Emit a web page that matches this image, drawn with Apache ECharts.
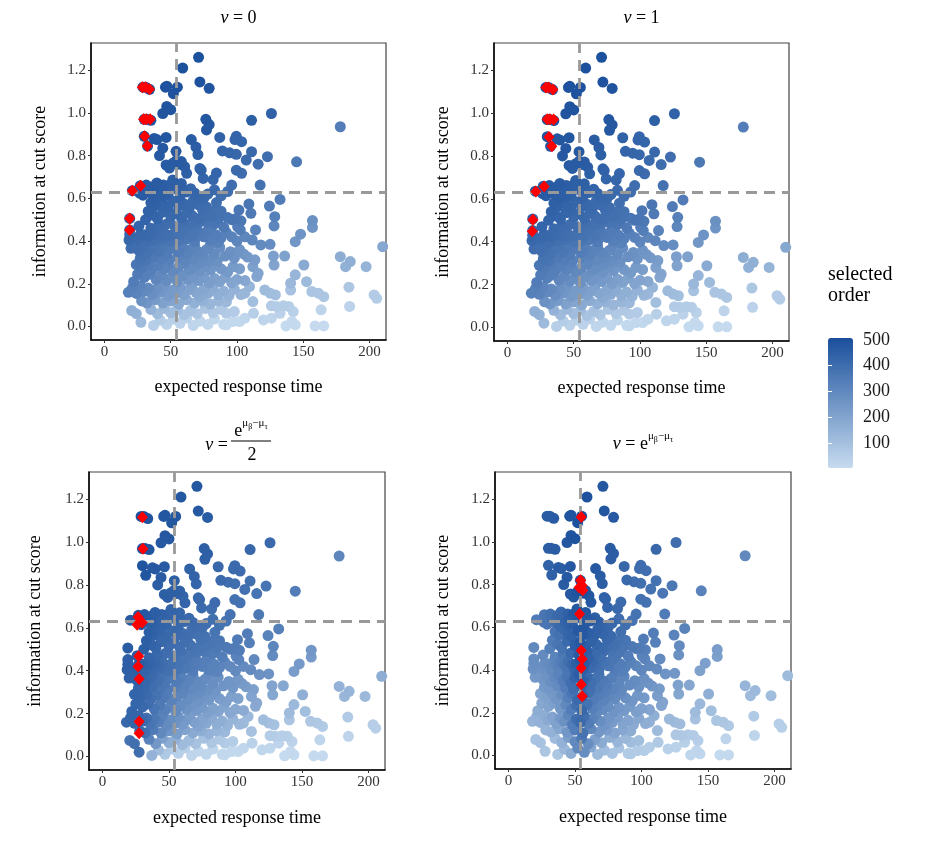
<!DOCTYPE html>
<html><head><meta charset="utf-8">
<script src="https://cdn.jsdelivr.net/npm/echarts@6/dist/echarts.min.js"></script>
<style>html,body{margin:0;padding:0;background:#fff}#c{width:927px;height:845px}</style>
</head><body><div id="c"></div>
<script>
// Each row: [expected response time, information at cut score, selected order (v=0 and v=1), selected order (v=e^(μβ-μτ)/2), selected order (v=e^(μβ-μτ))]
const itemsTop = [
[71,1.26,500,480,480],[59,1.21,500,480,495],[72,1.145,495,470,480],[79,1.115,490,460,470],[47,1.125,495,480,490],
[46,1.12,495,480,490],[55,1.12,495,480,500],[52,1.09,495,480,500],[29,1.12,500,500,460],[31,1.12,500,495,460],
[34,1.11,500,490,465],[47,1.03,490,475,490],[50,1.015,490,475,495],[44,0.997,490,470,480],[30,0.97,495,495,450],
[32,0.97,495,490,455],[35,0.965,495,485,460],[76.5,0.97,480,450,460],[79,0.945,475,445,455],[77,0.92,475,445,455],
[111,0.965,450,420,420],[126,0.997,440,410,400],[178,0.935,340,310,300]
];
const itemsHigh = [
[30,0.89,490,490,440],[32.5,0.845,485,485,445],[37.5,0.88,480,470,455],[39.5,0.875,480,470,460],[46.5,0.885,480,465,475],
[44,0.835,475,460,470],[41.5,0.8,470,455,460],[54,0.82,470,450,495],[65.5,0.875,460,440,470],[69,0.84,455,435,460],
[70.5,0.805,450,430,455],[87,0.885,440,420,420],[99.5,0.89,430,410,400],[98.5,0.875,430,410,400],[103.5,0.865,425,405,395],
[89,0.822,430,410,410],[94.5,0.813,425,400,400],[99.5,0.806,420,395,390],[111,0.818,415,390,380],[107,0.779,410,385,380],
[123,0.795,400,375,360],[116,0.76,400,375,365],[145,0.771,360,340,320],[46.5,0.756,465,450,470],[51.5,0.764,465,450,490],
[49,0.742,460,445,480],[58,0.772,460,440,490],[60.5,0.748,455,435,480],[62,0.717,450,430,470],[54,0.775,465,445,495],
[56,0.76,460,445,495],[72,0.74,440,420,440],[73,0.732,440,420,440],[84.5,0.718,430,405,410],[82,0.688,425,400,410],
[74.5,0.693,430,410,430],[99.5,0.732,410,385,385],[103.5,0.717,405,380,380]
];
const itemsMid = [
[96,0.662,400,380,380],[93,0.632,395,375,375],[117.5,0.662,385,360,350],[83,0.64,410,390,400],[51.5,0.686,450,430,480],
[49,0.662,445,430,470],[58,0.67,445,425,480],[59,0.64,440,420,470],[57,0.608,435,415,470],[21,0.636,470,470,350],
[27,0.659,470,480,370],[31.5,0.662,465,470,390],[37,0.655,460,455,410],[39.5,0.672,460,450,420],[44.5,0.662,455,440,440],
[26.5,0.625,465,475,360],[29,0.615,465,470,370],[33,0.64,460,460,390],[36,0.62,455,450,400],[41,0.645,450,440,420],
[43,0.625,450,435,430],[46,0.64,445,430,450],[48,0.615,440,425,455],[53,0.645,440,425,480],[62,0.63,430,410,460],
[65,0.645,430,410,450],[68,0.625,425,405,440],[70,0.61,420,400,430],[75,0.6,415,395,420],[78,0.62,415,395,420],
[88,0.612,400,380,390],[45,0.61,445,430,440],[39,0.605,450,440,415]
];
const itemsUpperCloud = [
[132.5,0.595,350,330,320],[124.5,0.564,350,325,320],[128.5,0.514,330,310,290],[109,0.573,370,345,345],[110.5,0.53,355,335,330],
[101.5,0.545,370,350,350],[84.5,0.58,395,375,390],[82,0.538,385,365,380],[35,0.58,445,450,370],[38,0.565,440,440,385],
[42,0.59,435,430,410],[45,0.57,430,420,425],[48,0.555,425,415,440],[52,0.585,425,410,470],[56,0.565,420,405,470],
[60,0.575,415,400,450],[64,0.555,410,395,440],[67,0.59,410,395,440],[71,0.57,405,385,425],[74,0.545,400,380,415],
[77,0.56,400,380,410],[80,0.52,390,370,390],[88,0.54,385,365,375],[93,0.51,375,355,360],[96,0.5,370,350,350],
[33,0.54,440,450,350],[37,0.52,430,435,365],[40,0.505,425,425,380],[44,0.535,425,420,410],[50,0.515,415,405,455],
[54,0.53,415,400,470],[58,0.51,410,395,455],[62,0.535,405,390,440],[66,0.52,400,385,425],[70,0.505,395,375,410],
[74,0.51,390,370,400],[86,0.505,380,360,370],[99,0.505,365,345,345],[103,0.495,360,340,335],[31,0.5,435,450,330],
[19,0.506,440,460,300]
];
const itemsLowerMid = [
[19,0.452,430,455,280],[19,0.43,425,455,275],[18.5,0.405,420,450,270],[128,0.471,310,290,270],[114,0.452,320,300,290],
[100.5,0.467,340,320,320],[102.5,0.452,335,315,315],[111.5,0.405,310,290,290],[157,0.496,270,250,230],[157,0.464,260,240,220],
[148,0.432,260,240,220],[144,0.397,250,230,210],[210,0.374,190,170,120],[118,0.382,290,270,260],[125,0.385,285,265,250],
[26,0.47,430,460,290],[27,0.43,420,455,280],[30,0.43,415,450,290],[33,0.425,410,440,300],[36,0.43,405,430,320],
[39,0.435,400,420,340],[42,0.425,395,410,360],[45,0.44,395,400,390],[48,0.425,390,390,420],[51,0.43,385,385,450],
[54,0.445,385,380,470],[57,0.43,380,375,460],[60,0.455,380,370,440],[63,0.44,370,360,420],[66,0.425,365,350,400],
[69,0.46,365,350,395],[72,0.44,355,340,380],[75,0.42,350,335,365],[78,0.45,350,335,365],[81,0.47,350,335,360],
[84,0.43,340,325,345],[88,0.415,330,315,330],[92,0.44,330,310,325],[96,0.42,320,300,310],[35,0.46,410,430,320],
[41,0.475,405,415,360],[47,0.48,400,400,410],[53,0.47,395,390,460],[59,0.49,395,385,445],[65,0.48,385,370,410],
[71,0.485,380,365,395],[77,0.49,375,360,380],[83,0.48,370,350,365],[90,0.465,355,340,345],[25,0.41,410,450,270],
[32,0.4,400,435,290],[38,0.405,390,415,320],[44,0.41,385,400,370],[50,0.4,375,385,430],[56,0.405,370,375,450],
[62,0.41,360,360,410],[68,0.4,350,345,385],[80,0.405,335,325,345],[86,0.395,325,315,330],[100,0.4,310,295,305],
[106,0.42,305,290,300]
];
const itemsCloud3 = [
[20,0.366,400,445,240],[23,0.37,400,440,245],[26,0.355,395,440,250],[29,0.37,390,435,265],[32,0.345,380,425,275],
[35,0.365,375,415,300],[38,0.38,375,405,320],[41,0.35,365,390,340],[44,0.37,360,380,370],[47,0.34,350,365,395],
[50,0.365,350,360,430],[53,0.38,350,355,455],[56,0.35,340,345,450],[59,0.37,335,335,420],[62,0.34,325,320,395],
[65,0.36,320,315,380],[68,0.38,320,310,370],[71,0.35,310,300,355],[74,0.33,300,290,340],[77,0.36,300,285,335],
[80,0.385,305,290,330],[83,0.34,290,275,310],[87,0.37,285,270,305],[91,0.33,275,260,290],[95,0.35,270,255,285],
[98,0.32,260,245,270],[102,0.36,260,245,270],[105,0.34,250,235,260],[27,0.32,380,430,240],[31,0.31,370,420,250],
[37,0.325,355,400,290],[43,0.315,340,370,340],[49,0.31,330,345,400],[55,0.325,325,330,440],[61,0.305,310,310,390],
[67,0.315,300,295,360],[73,0.3,285,280,330],[79,0.31,280,270,315],[85,0.305,270,255,300],[108,0.325,240,225,250],
[127.5,0.33,220,200,210],[136,0.33,210,190,195],[113.5,0.312,230,215,235],[128,0.288,205,190,195],[150.5,0.288,180,160,160],
[178,0.327,170,150,140],[185.5,0.304,160,140,125],[182,0.28,155,135,120],[197.5,0.28,145,125,110]
];
const itemsCloud2 = [
[24,0.29,365,430,200],[28,0.275,355,425,210],[33,0.29,345,410,235],[36,0.265,335,395,250],[40,0.285,330,380,280],
[45,0.27,315,355,330],[48,0.29,315,345,365],[52,0.26,300,320,410],[56,0.28,300,310,430],[60,0.295,300,305,390],
[64,0.265,280,280,350],[68,0.285,280,275,340],[72,0.26,265,260,315],[76,0.28,265,255,305],[80,0.265,255,245,290],
[84,0.29,255,240,285],[88,0.27,245,230,270],[93,0.255,235,220,255],[97,0.28,235,215,250],[112,0.28,215,200,225],
[116,0.249,200,185,205],[115,0.234,195,180,200],[102,0.27,225,210,240],[25,0.245,350,425,190],[30,0.23,335,415,200],
[34,0.245,325,400,220],[39,0.22,305,375,250],[43,0.24,300,355,300],[47,0.215,285,330,340],[51,0.235,280,310,390],
[55,0.21,270,290,420],[59,0.24,270,285,380],[63,0.22,255,265,335],[67,0.235,250,255,315],[71,0.215,240,240,290],
[75,0.23,235,235,280],[79,0.205,225,220,260],[83,0.225,220,210,255],[87,0.21,210,200,240],[91,0.23,210,195,235],
[96,0.205,200,185,220],[100,0.22,200,185,215],[106,0.215,190,175,200],[144,0.242,140,125,130],[140.5,0.203,130,115,120],
[152.5,0.21,120,105,105],[22,0.21,345,430,170]
];
const itemsCloud1 = [
[18,0.16,330,420,140],[21,0.18,330,425,150],[24,0.155,315,425,150],[27,0.19,315,425,170],[30,0.165,300,415,180],
[33,0.18,295,400,200],[36,0.15,275,375,210],[39,0.175,270,360,240],[42,0.16,255,335,270],[45,0.19,255,320,310],
[48,0.145,235,290,340],[51,0.17,235,280,390],[54,0.155,225,265,410],[57,0.185,230,260,390],[60,0.15,210,240,350],
[63,0.17,210,235,320],[66,0.195,215,230,300],[69,0.16,195,215,280],[72,0.14,180,200,255],[75,0.175,190,200,255],
[78,0.155,175,185,235],[82,0.18,175,180,230],[86,0.15,160,165,205],[90,0.165,160,160,200],[94,0.145,145,145,180],
[98,0.175,150,145,185],[103,0.15,135,130,165],[28,0.12,270,410,140],[32,0.11,250,395,150],[38,0.125,235,350,190],
[44,0.11,210,300,250],[50,0.12,200,260,340],[56,0.105,180,225,380],[62,0.125,175,205,300],[68,0.11,155,180,250],
[74,0.12,150,170,230],[80,0.105,135,150,200],[86,0.12,135,140,190],[92,0.115,125,125,170],[106,0.156,130,120,150],
[109.5,0.187,140,125,160],[121,0.171,120,110,130],[125,0.156,110,100,120],[129,0.148,105,95,110],[112,0.117,105,95,120],
[140.5,0.171,95,85,95],[156.5,0.164,85,75,80],[161.5,0.156,80,70,75],[165.5,0.14,75,65,70],[184.5,0.184,75,65,65],
[203.5,0.148,60,50,50],[205.5,0.132,55,45,45]
];
const itemsBottom = [
[20.5,0.075,160,380,90],[27.5,0.02,120,400,80],[24,0.06,150,390,90],[35,0.08,150,320,120],[40,0.06,120,250,150],
[45,0.085,130,220,220],[50,0.065,110,170,300],[55,0.08,110,150,360],[60,0.055,90,120,280],[65,0.075,95,115,220],
[70,0.06,80,95,180],[76,0.085,85,95,170],[82,0.065,70,75,140],[88,0.08,70,70,130],[92,0.062,60,60,110],
[98,0.07,60,55,105],[37,0.005,50,150,80],[42,0.03,55,120,130],[47,0.01,40,70,170],[52,0.035,45,60,300],
[57,0.015,35,45,280],[62,0.04,40,45,190],[67,0.005,25,25,120],[72,0.025,25,25,110],[78,0.01,20,20,90],
[83,0.035,25,25,90],[90,0.01,15,15,65],[97,0.023,15,15,60],[102,0.023,15,15,55],[106,0.039,20,20,55],
[92,0.008,12,12,55],[112.5,0.062,45,40,70],[120,0.031,25,22,40],[126,0.039,25,22,40],[132.5,0.062,35,30,45],
[126,0.097,60,55,75],[130,0.094,55,50,70],[135,0.097,55,50,65],[139,0.094,50,45,60],[142.5,0.07,40,35,50],
[137,0.003,8,8,20],[141.5,0.023,10,10,25],[144,0.008,8,8,20],[159,0.003,5,5,12],[165.5,0.003,5,5,10],
[163.5,0.078,30,25,30],[185,0.094,35,30,30]
];
// Selected items (red diamonds) per panel: [expected response time, information]
const selV0 = [[28.5,1.12],[31,1.12],[34,1.11],[29.5,0.97],[31.5,0.97],[34.5,0.97],[30.3,0.89],[32.3,0.845],[21,0.636],[27.3,0.659],[19,0.506],[19,0.452]];
const selV1 = [[29,1.12],[31,1.12],[34.3,1.11],[30,0.971],[32,0.971],[34.8,0.97],[31.3,0.888],[33.5,0.845],[21.4,0.634],[27.7,0.658],[19.2,0.503],[18.7,0.449]];
const selV2 = [[30,1.116],[30.4,0.969],[26.7,0.651],[29.9,0.625],[26,0.614],[27.2,0.467],[26.7,0.42],[27.5,0.361],[27.5,0.163],[27.5,0.109]];
const selV3 = [[54.7,1.116],[54.2,0.82],[55.4,0.796],[53,0.786],[55.9,0.773],[53.4,0.662],[54.7,0.492],[55.4,0.452],[54.7,0.41],[54.7,0.332],[55.4,0.278]];
const cutTime = 54, cutInfo = 0.63;
const xTicks = [0,50,100,150,200];
const yTicks = [0,0.2,0.4,0.6,0.8,1.0,1.2];
const legendTicks = [100,200,300,400,500];
const orderRange = [3,507];

const SERIF = '"Liberation Serif","Times New Roman",serif';
const items = [].concat(itemsTop,itemsHigh,itemsMid,itemsUpperCloud,itemsLowerMid,itemsCloud3,itemsCloud2,itemsCloud1,itemsBottom);
const panels = [
  {col:2, sel:selV0, grid:{left:91,top:43,width:295,height:297}, yGap:42, xGap:38},
  {col:2, sel:selV1, grid:{left:494,top:43,width:295,height:298}, yGap:42, xGap:38},
  {col:3, sel:selV2, grid:{left:89,top:472,width:296,height:298}, yGap:45, xGap:39},
  {col:4, sel:selV3, grid:{left:495,top:472,width:296,height:297}, yGap:43, xGap:39}
];
const grids=[], xAxes=[], yAxes=[], series=[], pointSeries=[];
panels.forEach((p,i)=>{
  grids.push(Object.assign({show:true,borderColor:'#444',borderWidth:1.2,backgroundColor:'transparent'},p.grid));
  xAxes.push({gridIndex:i,type:'value',min:-10.2,max:212.5,
    name:'expected response time',nameLocation:'middle',nameGap:p.xGap,
    nameTextStyle:{fontFamily:SERIF,fontSize:18,color:'#000'},
    axisLine:{show:true,onZero:false,lineStyle:{color:'#000',width:1.5}},
    axisTick:{show:true,length:3,customValues:xTicks,lineStyle:{color:'#333'}},
    axisLabel:{customValues:xTicks,fontFamily:SERIF,fontSize:15,color:'#333',margin:5},
    splitLine:{show:false}});
  yAxes.push({gridIndex:i,type:'value',min:-0.063,max:1.327,
    name:'information at cut score',nameLocation:'middle',nameGap:p.yGap,
    nameTextStyle:{fontFamily:SERIF,fontSize:18,color:'#000'},
    axisLine:{show:true,onZero:false,lineStyle:{color:'#000',width:1.5}},
    axisTick:{show:true,length:3,customValues:yTicks,lineStyle:{color:'#333'}},
    axisLabel:{customValues:yTicks,fontFamily:SERIF,fontSize:15,color:'#333',margin:5,formatter:v=>Number(v).toFixed(1)},
    splitLine:{show:false}});
  const data = items.map(r=>[r[0],r[1],r[p.col]]).sort((a,b)=>a[2]-b[2]);
  pointSeries.push(series.length);
  series.push({type:'scatter',xAxisIndex:i,yAxisIndex:i,data:data,symbolSize:11,z:2,silent:true,
    itemStyle:{opacity:1}});
  series.push({type:'line',xAxisIndex:i,yAxisIndex:i,data:[],z:3,silent:true,
    markLine:{silent:true,symbol:['none','none'],label:{show:false},animation:false,
      lineStyle:{color:'#999',width:2.8,type:[11,7]},
      data:[{xAxis:cutTime},{yAxis:cutInfo}]}});
  series.push({type:'scatter',xAxisIndex:i,yAxisIndex:i,data:p.sel,symbol:'diamond',symbolSize:[11,12],z:5,silent:true,
    itemStyle:{color:'#ff0000',opacity:1}});
});
// colour bar axes
grids.push({left:828,top:338,width:25,height:130,show:false});
xAxes.push({gridIndex:4,type:'value',min:0,max:1,show:false});
yAxes.push({gridIndex:4,type:'value',min:orderRange[0],max:orderRange[1],position:'right',z:10,
  axisLine:{show:false},splitLine:{show:false},
  axisTick:{show:true,inside:true,length:4,customValues:[100,200,300,400],lineStyle:{color:'#fff',width:1}},
  axisLabel:{customValues:legendTicks,fontFamily:SERIF,fontSize:18,color:'#1a1a1a',margin:10}});
yAxes.push({gridIndex:4,type:'value',min:orderRange[0],max:orderRange[1],position:'left',z:10,
  axisLine:{show:false},splitLine:{show:false},
  axisTick:{show:true,inside:true,length:4,customValues:[100,200,300,400],lineStyle:{color:'#fff',width:1}},
  axisLabel:{show:false}});

const rich = {
  i:{fontFamily:SERIF,fontSize:18,fontStyle:'italic',fill:'#000',verticalAlign:'bottom',lineHeight:22},
  n:{fontFamily:SERIF,fontSize:18,fill:'#000',verticalAlign:'bottom',lineHeight:22},
  e:{fontFamily:SERIF,fontSize:18,fill:'#000',verticalAlign:'bottom',lineHeight:22},
  s:{fontFamily:SERIF,fontSize:11,fill:'#000',verticalAlign:'top',lineHeight:12},
  b:{fontFamily:SERIF,fontSize:8,fill:'#000',verticalAlign:'top',lineHeight:9,padding:[5,0,0,0]}
};
const expo = '{e|e}{s|μ}{b|β}{s|−μ}{b|τ}';
function txt(x,y,text,align,valign,extra){
  return {type:'text',x:x,y:y,silent:true,z:20,style:Object.assign({text:text,rich:rich,font:'18px '+SERIF,fill:'#000',
    align:align,verticalAlign:valign,textAlign:align,textVerticalAlign:valign},extra||{})};
}
const graphics = [
  txt(238.5,16,'{i|v}{n| = 0}','center','middle'),
  txt(641.5,16,'{i|v}{n| = 1}','center','middle'),
  txt(228,443,'{i|v}{n| =}','right','middle'),
  txt(251,429,expo,'center','middle'),
  {type:'line',silent:true,z:20,shape:{x1:231,y1:441,x2:271,y2:441},style:{stroke:'#000',lineWidth:1}},
  txt(252,453,'{n|2}','center','middle'),
  txt(643,442,'{i|v}{n| = }'+expo,'center','middle'),
  {type:'text',x:828,y:264,silent:true,z:20,style:{text:'selected\norder',font:'20px '+SERIF,fill:'#000',lineHeight:21,
    align:'left',verticalAlign:'top',textAlign:'left',textVerticalAlign:'top'}}
];

const chart = echarts.init(document.getElementById('c'),null,{renderer:'canvas'});
chart.setOption({
  animation:false,
  backgroundColor:'#fff',
  grid:grids, xAxis:xAxes, yAxis:yAxes, series:series,
  visualMap:[{type:'continuous',min:orderRange[0],max:orderRange[1],dimension:2,seriesIndex:pointSeries,
    inRange:{color:['#c6dbef','#1a4f9c']},calculable:false,itemWidth:25,itemHeight:130,left:828,top:338,padding:0,
    text:null,showLabel:false,hoverLink:false}],
  graphic:graphics
});
</script></body></html>
